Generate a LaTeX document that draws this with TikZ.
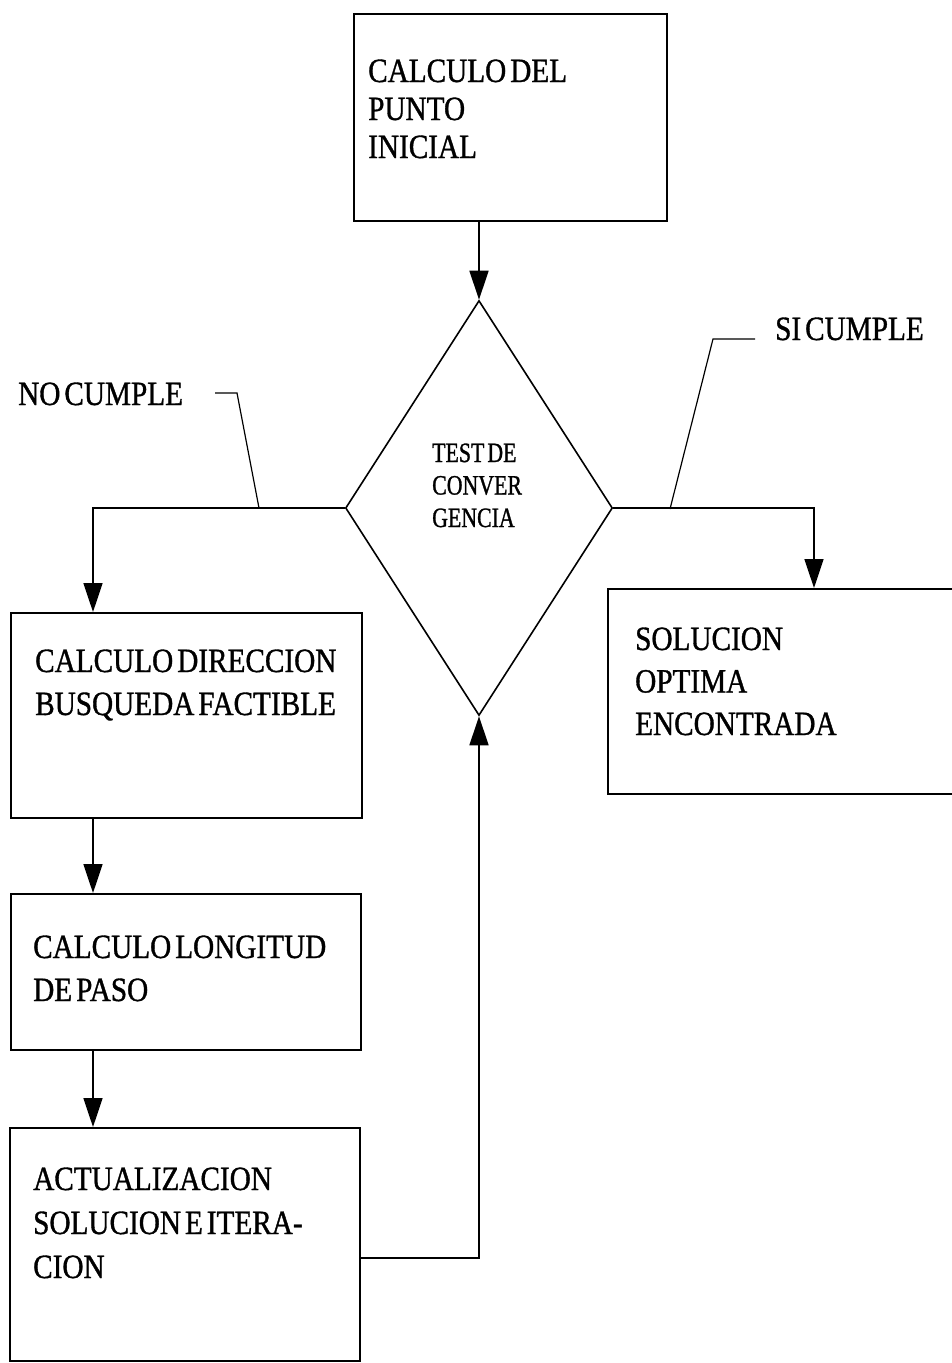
\documentclass[tikz,border=0pt]{standalone}
\usepackage{fontspec}
\setmainfont{Liberation Serif}[FakeStretch=0.86,FakeBold=1]
\newfontfamily\diafont{Liberation Serif}[FakeStretch=0.78,FakeBold=1]
\usetikzlibrary{arrows.meta,shapes.geometric}
\begin{document}
\begin{tikzpicture}[x=1pt,y=-1pt,
  box/.style={draw, line width=1.6pt, rectangle, inner sep=0pt, anchor=north west},
  arr/.style={line width=1.6pt, -{Triangle[length=29pt,width=19pt]}},
  lead/.style={line width=1.2pt},
  lbl/.style={inner sep=0pt, anchor=base west, text width=330pt, align=left, execute at begin node={\spaceskip=4pt\relax\xspaceskip=4pt\relax}},
  fnt/.style 2 args={font={\fontsize{#1}{#2}\selectfont}},
  dlbl/.style={inner sep=0pt, anchor=base west, text width=150pt, align=left, font={\diafont\fontsize{28}{32.5}\selectfont}, execute at begin node={\spaceskip=3pt\relax\xspaceskip=3pt\relax}}]
\useasboundingbox (0,0) rectangle (951,1363);

% boxes
\node[box, minimum width=313pt, minimum height=207pt] (top) at (353,13) {};
\node[diamond, draw, line width=1.6pt, minimum width=267pt, minimum height=415pt, inner sep=0pt] (d) at (479,508) {};
\node[box, minimum width=351pt, minimum height=205pt] (b1) at (10,612) {};
\node[box, minimum width=350pt, minimum height=156pt] (b2) at (10,893) {};
\node[box, minimum width=350pt, minimum height=233pt] (b3) at (9,1127) {};
\node[box, minimum width=352pt, minimum height=205pt] (sol) at (607,588) {};

% texts
\node[lbl, fnt={34}{38}] (ttop) at (368,82) {CALCULO DEL\\PUNTO\\INICIAL};
\node[dlbl] (td) at (432,462) {TEST DE\\CONVER\\GENCIA};
\node[lbl, fnt={34}{43}] (tb1) at (35,672) {CALCULO DIRECCION\\BUSQUEDA FACTIBLE};
\node[lbl, fnt={34}{43}] (tb2) at (33,958) {CALCULO LONGITUD\\DE PASO};
\node[lbl, fnt={34}{44}] (tb3) at (33,1190) {ACTUALIZACION\\SOLUCION E ITERA-\\CION};
\node[lbl, fnt={34}{42.5}] (tsol) at (635,650) {SOLUCION\\OPTIMA\\ENCONTRADA};
\node[lbl, text width=200pt, fnt={34}{38}] (no) at (18,405) {NO CUMPLE};
\node[lbl, text width=170pt, fnt={34}{38}] (si) at (775,340) {SI CUMPLE};

% helper coordinates
\coordinate (lb) at (93,0);
\coordinate (rb) at (814,0);
\coordinate (fb) at (0,1258);
\coordinate (nol) at (259,508);
\coordinate (sil) at (670,509);
\coordinate (nos) at (215,393);
\coordinate (sis) at (755,339);

% connectors
\draw[arr] (top.south -| d.north) -- (d.north);
\draw[arr] (d.west) -| (b1.north -| lb);
\draw[arr] (d.east) -| (sol.north -| rb);
\draw[arr] (b1.south -| lb) -- (b2.north -| lb);
\draw[arr] (b2.south -| lb) -- (b3.north -| lb);
\draw[arr] (b3.east |- fb) -| (d.south);

% leaders
\draw[lead] (nos) -- ++(22,0) -- (nol);
\draw[lead] (sis) -- ++(-42,0) -- (sil);
\end{tikzpicture}
\end{document}
